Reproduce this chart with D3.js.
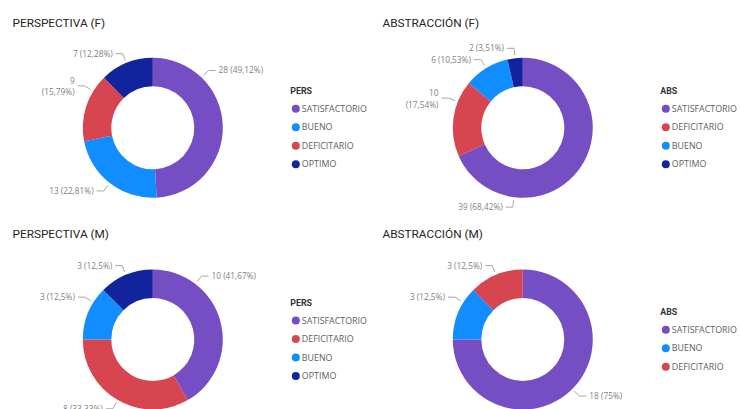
<!DOCTYPE html>
<html><head><meta charset="utf-8">
<script src="https://cdn.jsdelivr.net/npm/d3@7"></script>
<style>body{margin:0;background:#fff}</style>
</head><body><svg id="c" width="740" height="409"></svg>
<script>
// ---- data ----
const persCategoriesF = ["SATISFACTORIO", "BUENO", "DEFICITARIO", "OPTIMO"];
const persValuesF = [28, 13, 9, 7];
const absCategoriesF = ["SATISFACTORIO", "DEFICITARIO", "BUENO", "OPTIMO"];
const absValuesF = [39, 10, 6, 2];
const persCategoriesM = ["SATISFACTORIO", "DEFICITARIO", "BUENO", "OPTIMO"];
const persValuesM = [10, 8, 3, 3];
const absCategoriesM = ["SATISFACTORIO", "BUENO", "DEFICITARIO"];
const absValuesM = [18, 3, 3];
const chartTitles = ["PERSPECTIVA (F)", "ABSTRACCIÓN (F)", "PERSPECTIVA (M)", "ABSTRACCIÓN (M)"];
const legendTitles = ["PERS", "ABS", "PERS", "ABS"];

// ---- styles / layout ----
const colorScale = d3.scaleOrdinal()
  .domain(["SATISFACTORIO", "BUENO", "DEFICITARIO", "OPTIMO"])
  .range(["#744EC2", "#118DFF", "#D64550", "#12239E"]);

const panels = [
  {ox: 0,   oy: 0,     cats: persCategoriesF, vals: persValuesF, anchor: [0.25, 0.5, 0.75, 0.5], wrap: [0,0,1,0]},
  {ox: 370, oy: 0,     cats: absCategoriesF,  vals: absValuesF,  anchor: [0.76, 0.72, 0.5, 0.5], wrap: [0,1,0,0]},
  {ox: 0,   oy: 211.7, cats: persCategoriesM, vals: persValuesM, anchor: [0.25, 0.5, 0.71, 0.5], wrap: [0,0,0,0]},
  {ox: 370, oy: 211.7, cats: absCategoriesM,  vals: absValuesM,  anchor: [0.5, 0.71, 0.5],      wrap: [0,0,0]}
];

const R = 70, IR = 41.5;
const labelFont = "'Segoe UI', 'Open Sans', sans-serif";
const titleFont = "'DIN', 'Roboto', sans-serif";

const svg = d3.select("#c");
const fmtPct = v => {
  const s = (Math.round(v * 100) / 100).toString().replace(".", ",");
  return s + "%";
};

panels.forEach((p, i) => {
  const g = svg.append("g").attr("transform", `translate(${p.ox},${p.oy})`);
  const cx = 152.8, cy = 127.8;

  g.append("text")
    .attr("x", 12.5).attr("y", 26.7)
    .attr("font-family", titleFont).attr("font-size", 11.8)
    .attr("fill", "#252423")
    .text(chartTitles[i]);

  const data = p.cats.map((c, k) => ({cat: c, value: p.vals[k], k}));
  const total = d3.sum(p.vals);
  const pie = d3.pie().value(d => d.value).sort(null);
  const arcs = pie(data);
  const arc = d3.arc().innerRadius(IR).outerRadius(R);

  const dg = g.append("g").attr("transform", `translate(${cx},${cy})`);
  dg.selectAll("path").data(arcs).join("path")
    .attr("d", arc)
    .attr("fill", d => colorScale(d.data.cat));

  // labels
  arcs.forEach((d, k) => {
    const a = d.startAngle + p.anchor[k] * (d.endAngle - d.startAngle);
    const pt = r => [r * Math.sin(a), -r * Math.cos(a)];
    const p0 = pt(R + 3), p1 = pt(R + 10);
    const side = Math.sin(a) >= 0 ? 1 : -1;
    const p2 = [p1[0] + side * 7, p1[1]];
    dg.append("path")
      .attr("d", d3.line()([p0, p1, p2]))
      .attr("fill", "none").attr("stroke", "#a6a6a6").attr("stroke-width", 1);
    const valTxt = String(d.data.value);
    const pctTxt = "(" + fmtPct(d.data.value / total * 100) + ")";
    const tx = p2[0] + side * 3;
    const lines = p.wrap[k] ? [[valTxt, -5], [pctTxt, 6.5]] : [[valTxt + " " + pctTxt, 0]];
    lines.forEach(([txt, off]) => {
      dg.append("text")
        .attr("x", tx).attr("y", p2[1] + off).attr("dy", "0.35em")
        .attr("font-family", labelFont).attr("font-size", 8.3)
        .attr("fill", "#7f7f7f")
        .attr("text-anchor", side > 0 ? "start" : "end")
        .text(txt);
    });
  });

  // legend
  const n = p.cats.length;
  const blockH = 17.5 + (n - 1) * 18.5;
  const ly0 = cy - blockH / 2;
  const lx = cx + 137.5;
  g.append("text")
    .attr("x", lx).attr("y", ly0).attr("dy", "0.35em")
    .attr("font-family", titleFont).attr("font-size", 8.8).attr("font-weight", "bold")
    .attr("fill", "#333")
    .text(legendTitles[i]);
  const items = g.selectAll("g.li").data(p.cats).join("g")
    .attr("transform", (c, k) => `translate(${lx},${ly0 + 17.5 + k * 18.5})`);
  items.append("circle").attr("cx", 5.5).attr("cy", 0).attr("r", 4)
    .attr("fill", c => colorScale(c));
  items.append("text").attr("x", 11.5).attr("dy", "0.35em")
    .attr("font-family", labelFont).attr("font-size", 8.9)
    .attr("fill", "#605E5C")
    .text(c => c);
});
</script>
</body></html>
